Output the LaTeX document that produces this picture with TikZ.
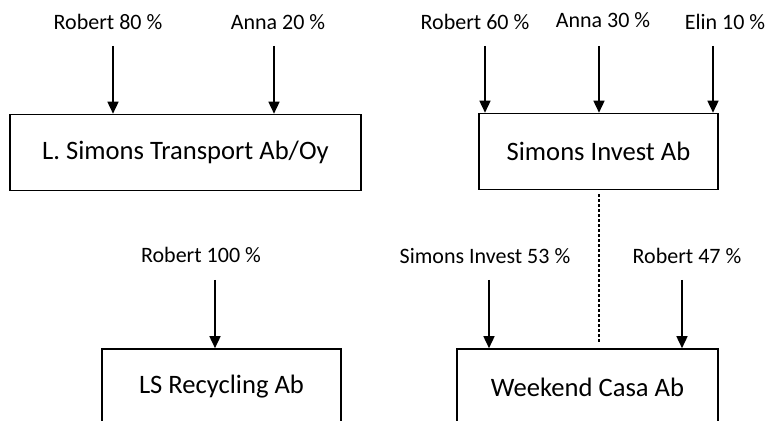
\documentclass[tikz,border=0pt]{standalone}
\usepackage{fontspec}
\setmainfont{Carlito}
\usetikzlibrary{arrows.meta}

\begin{document}
\begin{tikzpicture}[x = 0.5pt, y = -0.5pt]
	\tikzstyle{companyStyle}=[draw, line width = 0.8pt, inner sep = 0pt, minimum height = 38pt, font = \fontsize{13.3}{16}\selectfont]
	\tikzstyle{ownerStyle}=[inner sep = 0pt, anchor = base, font = \fontsize{11}{13}\selectfont]
	\tikzstyle{shareStyle}=[line width = 0.8pt, -{Triangle[length = 6pt, width = 5.5pt]}]
	\tikzstyle{linkStyle}=[line width = 1pt, dash pattern = on 1.5pt off 1pt, shorten <= 2pt, shorten >= 2pt]
	\clip (0,0) rectangle (767,421);
	\node[companyStyle, minimum width = 175.5pt] (transport) at (185.5,152.5) {L. Simons Transport Ab/Oy};
	\node[companyStyle, minimum width = 119.5pt] (invest) at (598.5,151.5) {Simons Invest Ab};
	\node[companyStyle, minimum width = 119.5pt] (recycling) at (221.5,387) {LS Recycling Ab};
	\node[companyStyle, minimum width = 130.5pt] (casa) at (587.5,387) {Weekend Casa Ab};
	\node[ownerStyle] (r80) at (108,30) {Robert 80 \%};
	\node[ownerStyle] (a20) at (278,30) {Anna 20 \%};
	\node[ownerStyle] (r60) at (475,30) {Robert 60 \%};
	\node[ownerStyle] (a30) at (603,28) {Anna 30 \%};
	\node[ownerStyle] (e10) at (725,30) {Elin 10 \%};
	\node[ownerStyle] (r100) at (201,263) {Robert 100 \%};
	\node[ownerStyle] (si53) at (485,264) {Simons Invest 53 \%};
	\node[ownerStyle] (r47) at (687,264) {Robert 47 \%};
	\coordinate (r80t) at (113,46);
	\coordinate (a20t) at (274,46);
	\coordinate (r60t) at (485,46);
	\coordinate (a30t) at (599,46);
	\coordinate (e10t) at (713,46);
	\coordinate (r100t) at (215,280);
	\coordinate (si53t) at (489,280);
	\coordinate (r47t) at (682,280);
	\draw[shareStyle] (r80t) -- (r80t |- transport.north);
	\draw[shareStyle] (a20t) -- (a20t |- transport.north);
	\draw[shareStyle] (r60t) -- (r60t |- invest.north);
	\draw[shareStyle] (a30t) -- (a30t |- invest.north);
	\draw[shareStyle] (e10t) -- (e10t |- invest.north);
	\draw[shareStyle] (r100t) -- (r100t |- recycling.north);
	\draw[shareStyle] (si53t) -- (si53t |- casa.north);
	\draw[shareStyle] (r47t) -- (r47t |- casa.north);
	\draw[linkStyle] (invest.south) -- (invest.south |- casa.north);
\end{tikzpicture}
\end{document}
